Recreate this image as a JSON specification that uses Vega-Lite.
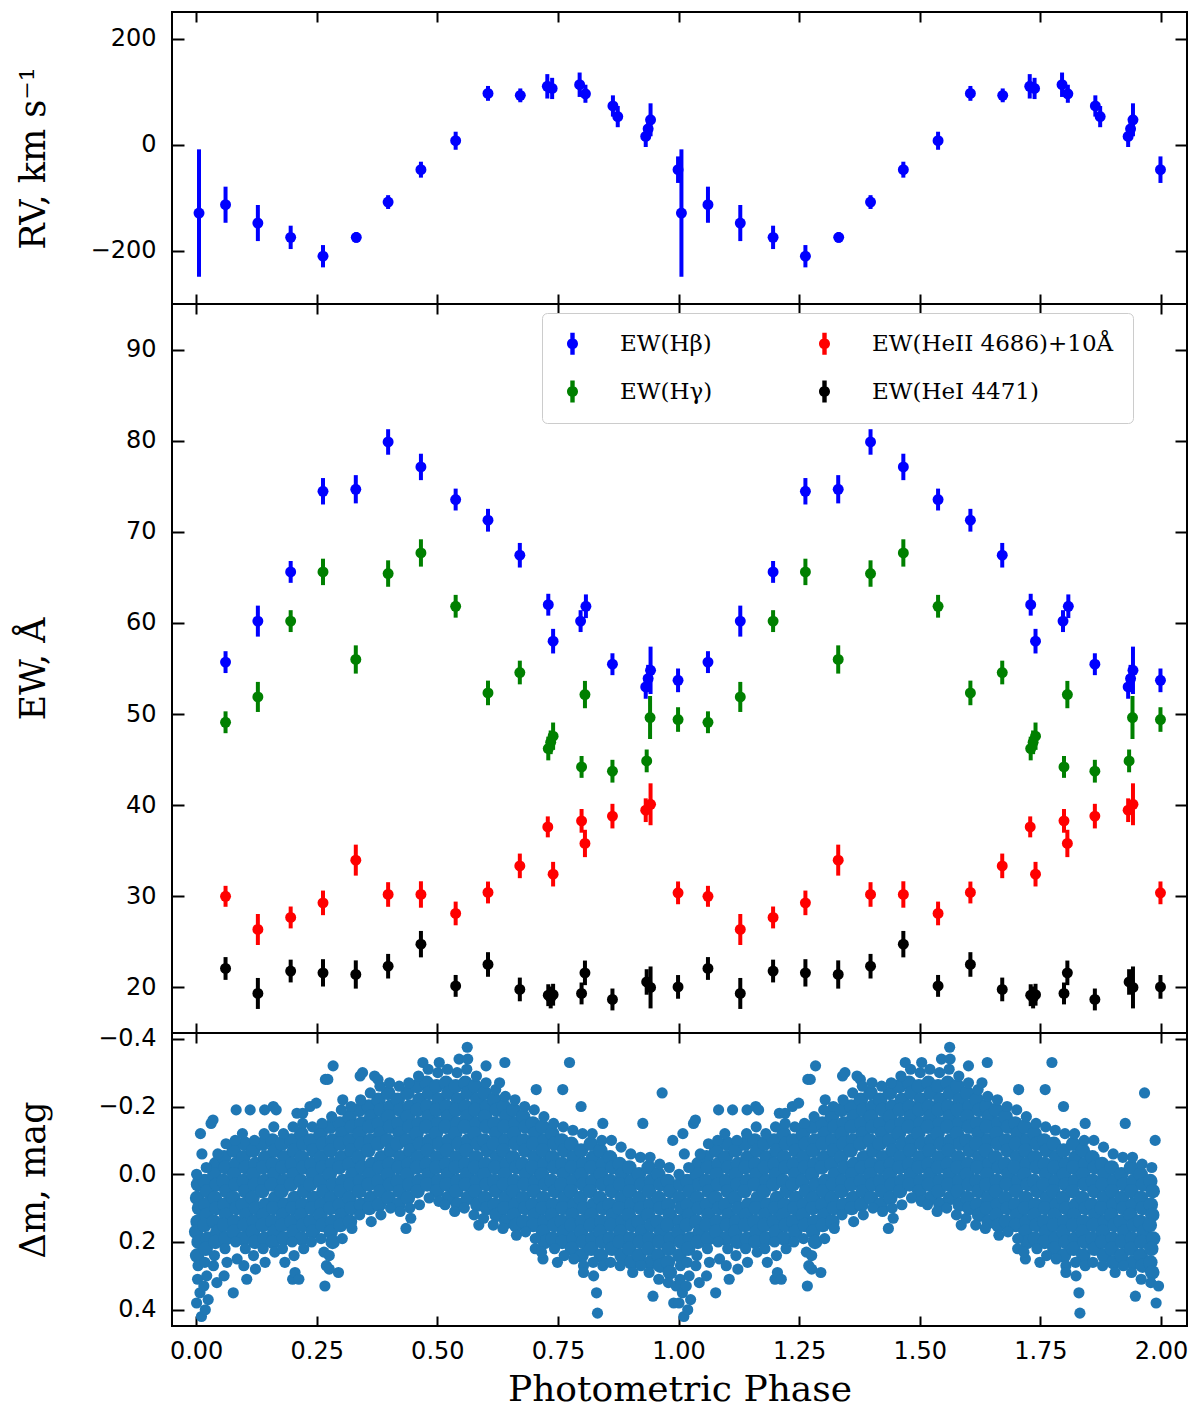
{
  "$schema": "https://vega.github.io/schema/vega-lite/v6.json",
  "background": "white",
  "padding": {"left": 15, "top": 10, "right": 5, "bottom": 5},
  "spacing": 0,
  "bounds": "flush",
  "datasets": {
    "rv": [
      {"p":0.006,"v":-128.7,"e":120},{"p":0.061,"v":-113,"e":34},{"p":0.128,"v":-147.5,"e":34},{"p":0.196,"v":-174.5,"e":22},
      {"p":0.263,"v":-210,"e":21},{"p":0.332,"v":-174.5,"e":10},{"p":0.398,"v":-108,"e":13},{"p":0.466,"v":-47,"e":15},
      {"p":0.538,"v":7.5,"e":17},{"p":0.605,"v":96.7,"e":14},{"p":0.672,"v":93,"e":13},{"p":0.728,"v":110,"e":23},
      {"p":0.738,"v":106,"e":20},{"p":0.795,"v":113,"e":23},{"p":0.807,"v":96,"e":17},{"p":0.864,"v":73,"e":20},
      {"p":0.874,"v":53,"e":20},{"p":0.932,"v":15.7,"e":20},{"p":0.937,"v":30,"e":16},{"p":0.942,"v":47,"e":31},
      {"p":0.999,"v":-47,"e":25}
    ],
    "ew": [
      {"p":0.061,"v":55.7,"e":1.2,"s":"EW(Hβ)"},{"p":0.128,"v":60.2,"e":1.7,"s":"EW(Hβ)"},{"p":0.196,"v":65.6,"e":1.2,"s":"EW(Hβ)"},
      {"p":0.263,"v":74.45,"e":1.45,"s":"EW(Hβ)"},{"p":0.331,"v":74.67,"e":1.55,"s":"EW(Hβ)"},{"p":0.398,"v":79.86,"e":1.4,"s":"EW(Hβ)"},
      {"p":0.466,"v":77.12,"e":1.45,"s":"EW(Hβ)"},{"p":0.538,"v":73.54,"e":1.2,"s":"EW(Hβ)"},{"p":0.605,"v":71.27,"e":1.25,"s":"EW(Hβ)"},
      {"p":0.671,"v":67.43,"e":1.35,"s":"EW(Hβ)"},{"p":0.730,"v":62.0,"e":1.2,"s":"EW(Hβ)"},{"p":0.740,"v":58.0,"e":1.35,"s":"EW(Hβ)"},
      {"p":0.797,"v":60.2,"e":1.2,"s":"EW(Hβ)"},{"p":0.808,"v":61.83,"e":1.3,"s":"EW(Hβ)"},{"p":0.863,"v":55.47,"e":1.2,"s":"EW(Hβ)"},
      {"p":0.932,"v":52.98,"e":1.3,"s":"EW(Hβ)"},{"p":0.937,"v":53.9,"e":1.5,"s":"EW(Hβ)"},{"p":0.942,"v":54.8,"e":2.6,"s":"EW(Hβ)"},
      {"p":0.999,"v":53.7,"e":1.3,"s":"EW(Hβ)"},
      {"p":0.061,"v":49.1,"e":1.2,"s":"EW(Hγ)"},{"p":0.128,"v":51.88,"e":1.65,"s":"EW(Hγ)"},{"p":0.196,"v":60.2,"e":1.2,"s":"EW(Hγ)"},
      {"p":0.263,"v":65.6,"e":1.45,"s":"EW(Hγ)"},{"p":0.331,"v":55.99,"e":1.55,"s":"EW(Hγ)"},{"p":0.398,"v":65.42,"e":1.45,"s":"EW(Hγ)"},
      {"p":0.466,"v":67.68,"e":1.5,"s":"EW(Hγ)"},{"p":0.538,"v":61.83,"e":1.25,"s":"EW(Hγ)"},{"p":0.605,"v":52.32,"e":1.35,"s":"EW(Hγ)"},
      {"p":0.671,"v":54.56,"e":1.3,"s":"EW(Hγ)"},{"p":0.730,"v":46.22,"e":1.3,"s":"EW(Hγ)"},{"p":0.735,"v":46.9,"e":1.3,"s":"EW(Hγ)"},
      {"p":0.740,"v":47.57,"e":1.5,"s":"EW(Hγ)"},{"p":0.799,"v":44.2,"e":1.2,"s":"EW(Hγ)"},{"p":0.806,"v":52.14,"e":1.5,"s":"EW(Hγ)"},
      {"p":0.863,"v":43.73,"e":1.25,"s":"EW(Hγ)"},{"p":0.934,"v":44.86,"e":1.25,"s":"EW(Hγ)"},{"p":0.941,"v":49.62,"e":2.36,"s":"EW(Hγ)"},
      {"p":0.999,"v":49.4,"e":1.35,"s":"EW(Hγ)"},
      {"p":0.061,"v":30.0,"e":1.15,"s":"EW(HeII 4686)+10Å"},{"p":0.128,"v":26.36,"e":1.7,"s":"EW(HeII 4686)+10Å"},{"p":0.196,"v":27.68,"e":1.2,"s":"EW(HeII 4686)+10Å"},
      {"p":0.263,"v":29.28,"e":1.35,"s":"EW(HeII 4686)+10Å"},{"p":0.331,"v":33.97,"e":1.7,"s":"EW(HeII 4686)+10Å"},{"p":0.398,"v":30.2,"e":1.35,"s":"EW(HeII 4686)+10Å"},
      {"p":0.466,"v":30.2,"e":1.45,"s":"EW(HeII 4686)+10Å"},{"p":0.538,"v":28.12,"e":1.3,"s":"EW(HeII 4686)+10Å"},{"p":0.605,"v":30.42,"e":1.2,"s":"EW(HeII 4686)+10Å"},
      {"p":0.671,"v":33.34,"e":1.35,"s":"EW(HeII 4686)+10Å"},{"p":0.729,"v":37.62,"e":1.15,"s":"EW(HeII 4686)+10Å"},{"p":0.740,"v":32.43,"e":1.35,"s":"EW(HeII 4686)+10Å"},
      {"p":0.799,"v":38.28,"e":1.3,"s":"EW(HeII 4686)+10Å"},{"p":0.806,"v":35.8,"e":1.5,"s":"EW(HeII 4686)+10Å"},{"p":0.863,"v":38.8,"e":1.35,"s":"EW(HeII 4686)+10Å"},
      {"p":0.932,"v":39.45,"e":1.3,"s":"EW(HeII 4686)+10Å"},{"p":0.942,"v":40.1,"e":2.3,"s":"EW(HeII 4686)+10Å"},{"p":0.999,"v":30.38,"e":1.25,"s":"EW(HeII 4686)+10Å"},
      {"p":0.061,"v":22.08,"e":1.25,"s":"EW(HeI 4471)"},{"p":0.128,"v":19.34,"e":1.7,"s":"EW(HeI 4471)"},{"p":0.196,"v":21.8,"e":1.25,"s":"EW(HeI 4471)"},
      {"p":0.263,"v":21.6,"e":1.5,"s":"EW(HeI 4471)"},{"p":0.331,"v":21.42,"e":1.55,"s":"EW(HeI 4471)"},{"p":0.398,"v":22.33,"e":1.35,"s":"EW(HeI 4471)"},
      {"p":0.466,"v":24.75,"e":1.45,"s":"EW(HeI 4471)"},{"p":0.538,"v":20.17,"e":1.2,"s":"EW(HeI 4471)"},{"p":0.605,"v":22.52,"e":1.35,"s":"EW(HeI 4471)"},
      {"p":0.671,"v":19.78,"e":1.3,"s":"EW(HeI 4471)"},{"p":0.730,"v":19.15,"e":1.2,"s":"EW(HeI 4471)"},{"p":0.735,"v":18.9,"e":1.2,"s":"EW(HeI 4471)"},
      {"p":0.740,"v":19.2,"e":1.2,"s":"EW(HeI 4471)"},{"p":0.799,"v":19.34,"e":1.2,"s":"EW(HeI 4471)"},{"p":0.806,"v":21.6,"e":1.35,"s":"EW(HeI 4471)"},
      {"p":0.863,"v":18.68,"e":1.2,"s":"EW(HeI 4471)"},{"p":0.934,"v":20.6,"e":1.4,"s":"EW(HeI 4471)"},{"p":0.942,"v":20.0,"e":2.3,"s":"EW(HeI 4471)"},
      {"p":0.999,"v":20.06,"e":1.3,"s":"EW(HeI 4471)"}
    ],
    "photCore": [
      {"p":0.004,"m":0.03},{"p":0.002,"m":0.07},{"p":0.006,"m":0.10},{"p":0.003,"m":0.14},{"p":0.000,"m":0.17},{"p":0.005,"m":0.20},{"p":0.002,"m":0.24},
      {"p":0.018,"m":0.02},{"p":0.023,"m":0.05},{"p":0.019,"m":0.09},{"p":0.022,"m":0.12},{"p":0.017,"m":0.15},{"p":0.024,"m":0.19},{"p":0.020,"m":0.22},
      {"p":0.041,"m":-0.03},{"p":0.038,"m":0.00},{"p":0.043,"m":0.03},{"p":0.039,"m":0.07},{"p":0.042,"m":0.10},{"p":0.037,"m":0.14},{"p":0.044,"m":0.17},{"p":0.040,"m":0.20},
      {"p":0.058,"m":-0.05},{"p":0.061,"m":-0.02},{"p":0.057,"m":0.02},{"p":0.063,"m":0.05},{"p":0.059,"m":0.09},{"p":0.062,"m":0.12},{"p":0.058,"m":0.15},{"p":0.061,"m":0.19},
      {"p":0.078,"m":-0.07},{"p":0.083,"m":-0.03},{"p":0.079,"m":0.00},{"p":0.082,"m":0.03},{"p":0.077,"m":0.07},{"p":0.084,"m":0.10},{"p":0.080,"m":0.14},{"p":0.078,"m":0.17},
      {"p":0.101,"m":-0.09},{"p":0.098,"m":-0.05},{"p":0.103,"m":-0.02},{"p":0.099,"m":0.02},{"p":0.102,"m":0.05},{"p":0.097,"m":0.09},{"p":0.104,"m":0.12},{"p":0.100,"m":0.15},{"p":0.098,"m":0.19},
      {"p":0.118,"m":-0.07},{"p":0.123,"m":-0.03},{"p":0.119,"m":0.00},{"p":0.122,"m":0.03},{"p":0.117,"m":0.07},{"p":0.124,"m":0.10},{"p":0.120,"m":0.14},{"p":0.118,"m":0.17},{"p":0.122,"m":0.20},
      {"p":0.138,"m":-0.09},{"p":0.143,"m":-0.05},{"p":0.139,"m":-0.02},{"p":0.142,"m":0.02},{"p":0.137,"m":0.05},{"p":0.144,"m":0.09},{"p":0.140,"m":0.12},{"p":0.138,"m":0.15},{"p":0.142,"m":0.19},
      {"p":0.158,"m":-0.10},{"p":0.163,"m":-0.07},{"p":0.159,"m":-0.03},{"p":0.162,"m":0.00},{"p":0.157,"m":0.03},{"p":0.164,"m":0.07},{"p":0.160,"m":0.10},{"p":0.158,"m":0.14},{"p":0.162,"m":0.17},{"p":0.159,"m":0.20},
      {"p":0.178,"m":-0.09},{"p":0.183,"m":-0.05},{"p":0.179,"m":-0.02},{"p":0.182,"m":0.02},{"p":0.177,"m":0.05},{"p":0.184,"m":0.09},{"p":0.180,"m":0.12},{"p":0.178,"m":0.15},{"p":0.182,"m":0.19},
      {"p":0.198,"m":-0.10},{"p":0.203,"m":-0.07},{"p":0.199,"m":-0.03},{"p":0.202,"m":0.00},{"p":0.197,"m":0.03},{"p":0.204,"m":0.07},{"p":0.200,"m":0.10},{"p":0.198,"m":0.14},{"p":0.202,"m":0.17},
      {"p":0.218,"m":-0.12},{"p":0.223,"m":-0.09},{"p":0.219,"m":-0.05},{"p":0.222,"m":-0.02},{"p":0.217,"m":0.02},{"p":0.224,"m":0.05},{"p":0.220,"m":0.09},{"p":0.218,"m":0.12},{"p":0.222,"m":0.15},{"p":0.219,"m":0.19},
      {"p":0.238,"m":-0.10},{"p":0.243,"m":-0.07},{"p":0.239,"m":-0.03},{"p":0.242,"m":0.00},{"p":0.237,"m":0.03},{"p":0.244,"m":0.07},{"p":0.240,"m":0.10},{"p":0.238,"m":0.14},{"p":0.242,"m":0.17},
      {"p":0.258,"m":-0.12},{"p":0.263,"m":-0.09},{"p":0.259,"m":-0.05},{"p":0.262,"m":-0.02},{"p":0.257,"m":0.02},{"p":0.264,"m":0.05},{"p":0.260,"m":0.09},{"p":0.258,"m":0.12},{"p":0.262,"m":0.15},
      {"p":0.278,"m":-0.14},{"p":0.283,"m":-0.10},{"p":0.279,"m":-0.07},{"p":0.282,"m":-0.03},{"p":0.277,"m":0.00},{"p":0.284,"m":0.03},{"p":0.280,"m":0.07},{"p":0.278,"m":0.10},{"p":0.282,"m":0.14},{"p":0.279,"m":0.17},{"p":0.283,"m":0.20},
      {"p":0.298,"m":-0.15},{"p":0.303,"m":-0.12},{"p":0.299,"m":-0.09},{"p":0.302,"m":-0.05},{"p":0.297,"m":-0.02},{"p":0.304,"m":0.02},{"p":0.300,"m":0.05},{"p":0.298,"m":0.09},{"p":0.302,"m":0.12},{"p":0.299,"m":0.15},
      {"p":0.318,"m":-0.17},{"p":0.323,"m":-0.14},{"p":0.319,"m":-0.10},{"p":0.322,"m":-0.07},{"p":0.317,"m":-0.03},{"p":0.324,"m":0.00},{"p":0.320,"m":0.03},{"p":0.318,"m":0.07},{"p":0.322,"m":0.10},{"p":0.319,"m":0.14},
      {"p":0.338,"m":-0.19},{"p":0.343,"m":-0.15},{"p":0.339,"m":-0.12},{"p":0.342,"m":-0.09},{"p":0.337,"m":-0.05},{"p":0.344,"m":-0.02},{"p":0.340,"m":0.02},{"p":0.338,"m":0.05},{"p":0.342,"m":0.09},
      {"p":0.358,"m":-0.20},{"p":0.363,"m":-0.17},{"p":0.359,"m":-0.14},{"p":0.362,"m":-0.10},{"p":0.357,"m":-0.07},{"p":0.364,"m":-0.03},{"p":0.360,"m":0.00},{"p":0.358,"m":0.03},{"p":0.362,"m":0.07},{"p":0.359,"m":0.10},
      {"p":0.378,"m":-0.22},{"p":0.383,"m":-0.19},{"p":0.379,"m":-0.15},{"p":0.382,"m":-0.12},{"p":0.377,"m":-0.09},{"p":0.384,"m":-0.05},{"p":0.380,"m":-0.02},{"p":0.378,"m":0.02},{"p":0.382,"m":0.05},{"p":0.379,"m":0.09},
      {"p":0.398,"m":-0.24},{"p":0.403,"m":-0.20},{"p":0.399,"m":-0.17},{"p":0.402,"m":-0.14},{"p":0.397,"m":-0.10},{"p":0.404,"m":-0.07},{"p":0.400,"m":-0.03},{"p":0.398,"m":0.00},{"p":0.402,"m":0.03},{"p":0.399,"m":0.07},
      {"p":0.418,"m":-0.22},{"p":0.423,"m":-0.19},{"p":0.419,"m":-0.15},{"p":0.422,"m":-0.12},{"p":0.417,"m":-0.09},{"p":0.424,"m":-0.05},{"p":0.420,"m":-0.02},{"p":0.418,"m":0.02},{"p":0.422,"m":0.05},{"p":0.419,"m":0.09},
      {"p":0.438,"m":-0.24},{"p":0.443,"m":-0.20},{"p":0.439,"m":-0.17},{"p":0.442,"m":-0.14},{"p":0.437,"m":-0.10},{"p":0.444,"m":-0.07},{"p":0.440,"m":-0.03},{"p":0.438,"m":0.00},{"p":0.442,"m":0.03},{"p":0.439,"m":0.07},
      {"p":0.458,"m":-0.26},{"p":0.463,"m":-0.22},{"p":0.459,"m":-0.19},{"p":0.462,"m":-0.15},{"p":0.457,"m":-0.12},{"p":0.464,"m":-0.09},{"p":0.460,"m":-0.05},{"p":0.458,"m":-0.02},{"p":0.462,"m":0.02},{"p":0.459,"m":0.05},
      {"p":0.478,"m":-0.27},{"p":0.483,"m":-0.24},{"p":0.479,"m":-0.20},{"p":0.482,"m":-0.17},{"p":0.477,"m":-0.14},{"p":0.484,"m":-0.10},{"p":0.480,"m":-0.07},{"p":0.478,"m":-0.03},{"p":0.482,"m":0.00},{"p":0.479,"m":0.03},
      {"p":0.498,"m":-0.26},{"p":0.503,"m":-0.22},{"p":0.499,"m":-0.19},{"p":0.502,"m":-0.15},{"p":0.497,"m":-0.12},{"p":0.504,"m":-0.09},{"p":0.500,"m":-0.05},{"p":0.498,"m":-0.02},{"p":0.502,"m":0.02},{"p":0.499,"m":0.05},
      {"p":0.518,"m":-0.27},{"p":0.523,"m":-0.24},{"p":0.519,"m":-0.20},{"p":0.522,"m":-0.17},{"p":0.517,"m":-0.14},{"p":0.524,"m":-0.10},{"p":0.520,"m":-0.07},{"p":0.518,"m":-0.03},{"p":0.522,"m":0.00},{"p":0.519,"m":0.03},{"p":0.523,"m":0.07},
      {"p":0.538,"m":-0.26},{"p":0.543,"m":-0.22},{"p":0.539,"m":-0.19},{"p":0.542,"m":-0.15},{"p":0.537,"m":-0.12},{"p":0.544,"m":-0.09},{"p":0.540,"m":-0.05},{"p":0.538,"m":-0.02},{"p":0.542,"m":0.02},{"p":0.539,"m":0.05},{"p":0.543,"m":0.09},
      {"p":0.558,"m":-0.27},{"p":0.563,"m":-0.24},{"p":0.559,"m":-0.20},{"p":0.562,"m":-0.17},{"p":0.557,"m":-0.14},{"p":0.564,"m":-0.10},{"p":0.560,"m":-0.07},{"p":0.558,"m":-0.03},{"p":0.562,"m":0.00},{"p":0.559,"m":0.03},{"p":0.563,"m":0.07},
      {"p":0.578,"m":-0.26},{"p":0.583,"m":-0.22},{"p":0.579,"m":-0.19},{"p":0.582,"m":-0.15},{"p":0.577,"m":-0.12},{"p":0.584,"m":-0.09},{"p":0.580,"m":-0.05},{"p":0.578,"m":-0.02},{"p":0.582,"m":0.02},{"p":0.579,"m":0.05},{"p":0.583,"m":0.09},
      {"p":0.598,"m":-0.24},{"p":0.603,"m":-0.20},{"p":0.599,"m":-0.17},{"p":0.602,"m":-0.14},{"p":0.597,"m":-0.10},{"p":0.604,"m":-0.07},{"p":0.600,"m":-0.03},{"p":0.598,"m":0.00},{"p":0.602,"m":0.03},{"p":0.599,"m":0.07},{"p":0.603,"m":0.10},
      {"p":0.618,"m":-0.22},{"p":0.623,"m":-0.19},{"p":0.619,"m":-0.15},{"p":0.622,"m":-0.12},{"p":0.617,"m":-0.09},{"p":0.624,"m":-0.05},{"p":0.620,"m":-0.02},{"p":0.618,"m":0.02},{"p":0.622,"m":0.05},{"p":0.619,"m":0.09},{"p":0.623,"m":0.12},
      {"p":0.638,"m":-0.20},{"p":0.643,"m":-0.17},{"p":0.639,"m":-0.14},{"p":0.642,"m":-0.10},{"p":0.637,"m":-0.07},{"p":0.644,"m":-0.03},{"p":0.640,"m":0.00},{"p":0.638,"m":0.03},{"p":0.642,"m":0.07},{"p":0.639,"m":0.10},{"p":0.643,"m":0.14},
      {"p":0.658,"m":-0.19},{"p":0.663,"m":-0.15},{"p":0.659,"m":-0.12},{"p":0.662,"m":-0.09},{"p":0.657,"m":-0.05},{"p":0.664,"m":-0.02},{"p":0.660,"m":0.02},{"p":0.658,"m":0.05},{"p":0.662,"m":0.09},{"p":0.659,"m":0.12},{"p":0.663,"m":0.15},
      {"p":0.678,"m":-0.17},{"p":0.683,"m":-0.14},{"p":0.679,"m":-0.10},{"p":0.682,"m":-0.07},{"p":0.677,"m":-0.03},{"p":0.684,"m":0.00},{"p":0.680,"m":0.03},{"p":0.678,"m":0.07},{"p":0.682,"m":0.10},{"p":0.679,"m":0.14},
      {"p":0.698,"m":-0.15},{"p":0.703,"m":-0.12},{"p":0.699,"m":-0.09},{"p":0.702,"m":-0.05},{"p":0.697,"m":-0.02},{"p":0.704,"m":0.02},{"p":0.700,"m":0.05},{"p":0.698,"m":0.09},{"p":0.702,"m":0.12},{"p":0.699,"m":0.15},
      {"p":0.718,"m":-0.14},{"p":0.723,"m":-0.10},{"p":0.719,"m":-0.07},{"p":0.722,"m":-0.03},{"p":0.717,"m":0.00},{"p":0.724,"m":0.03},{"p":0.720,"m":0.07},{"p":0.718,"m":0.10},{"p":0.722,"m":0.14},{"p":0.719,"m":0.17},{"p":0.723,"m":0.20},
      {"p":0.738,"m":-0.12},{"p":0.743,"m":-0.09},{"p":0.739,"m":-0.05},{"p":0.742,"m":-0.02},{"p":0.737,"m":0.02},{"p":0.744,"m":0.05},{"p":0.740,"m":0.09},{"p":0.738,"m":0.12},{"p":0.742,"m":0.15},{"p":0.739,"m":0.19},
      {"p":0.758,"m":-0.10},{"p":0.763,"m":-0.07},{"p":0.759,"m":-0.03},{"p":0.762,"m":0.00},{"p":0.757,"m":0.03},{"p":0.764,"m":0.07},{"p":0.760,"m":0.10},{"p":0.758,"m":0.14},{"p":0.762,"m":0.17},{"p":0.759,"m":0.20},
      {"p":0.778,"m":-0.09},{"p":0.783,"m":-0.05},{"p":0.779,"m":-0.02},{"p":0.782,"m":0.02},{"p":0.777,"m":0.05},{"p":0.784,"m":0.09},{"p":0.780,"m":0.12},{"p":0.778,"m":0.15},{"p":0.782,"m":0.19},{"p":0.779,"m":0.22},
      {"p":0.798,"m":-0.07},{"p":0.803,"m":-0.03},{"p":0.799,"m":0.00},{"p":0.802,"m":0.03},{"p":0.797,"m":0.07},{"p":0.804,"m":0.10},{"p":0.800,"m":0.14},{"p":0.798,"m":0.17},{"p":0.802,"m":0.20},{"p":0.799,"m":0.24},
      {"p":0.818,"m":-0.09},{"p":0.823,"m":-0.05},{"p":0.819,"m":-0.02},{"p":0.822,"m":0.02},{"p":0.817,"m":0.05},{"p":0.824,"m":0.09},{"p":0.820,"m":0.12},{"p":0.818,"m":0.15},{"p":0.822,"m":0.19},{"p":0.819,"m":0.22},
      {"p":0.838,"m":-0.07},{"p":0.843,"m":-0.03},{"p":0.839,"m":0.00},{"p":0.842,"m":0.03},{"p":0.837,"m":0.07},{"p":0.844,"m":0.10},{"p":0.840,"m":0.14},{"p":0.838,"m":0.17},{"p":0.842,"m":0.20},{"p":0.839,"m":0.24},
      {"p":0.858,"m":-0.05},{"p":0.863,"m":-0.02},{"p":0.859,"m":0.02},{"p":0.862,"m":0.05},{"p":0.857,"m":0.09},{"p":0.864,"m":0.12},{"p":0.860,"m":0.15},{"p":0.858,"m":0.19},{"p":0.862,"m":0.22},
      {"p":0.878,"m":-0.03},{"p":0.883,"m":0.00},{"p":0.879,"m":0.03},{"p":0.882,"m":0.07},{"p":0.877,"m":0.10},{"p":0.884,"m":0.14},{"p":0.880,"m":0.17},{"p":0.878,"m":0.20},{"p":0.882,"m":0.24},
      {"p":0.898,"m":-0.02},{"p":0.903,"m":0.02},{"p":0.899,"m":0.05},{"p":0.902,"m":0.09},{"p":0.897,"m":0.12},{"p":0.904,"m":0.15},{"p":0.900,"m":0.19},{"p":0.898,"m":0.22},{"p":0.902,"m":0.26},
      {"p":0.918,"m":0.00},{"p":0.923,"m":0.03},{"p":0.919,"m":0.07},{"p":0.922,"m":0.10},{"p":0.917,"m":0.14},{"p":0.924,"m":0.17},{"p":0.920,"m":0.20},{"p":0.918,"m":0.24},
      {"p":0.938,"m":-0.02},{"p":0.943,"m":0.02},{"p":0.939,"m":0.05},{"p":0.942,"m":0.09},{"p":0.937,"m":0.12},{"p":0.944,"m":0.15},{"p":0.940,"m":0.19},{"p":0.938,"m":0.22},{"p":0.942,"m":0.26},
      {"p":0.958,"m":0.00},{"p":0.963,"m":0.03},{"p":0.959,"m":0.07},{"p":0.962,"m":0.10},{"p":0.957,"m":0.14},{"p":0.964,"m":0.17},{"p":0.960,"m":0.20},{"p":0.958,"m":0.24},{"p":0.962,"m":0.27},
      {"p":0.978,"m":0.02},{"p":0.983,"m":0.05},{"p":0.979,"m":0.09},{"p":0.982,"m":0.12},{"p":0.977,"m":0.15},{"p":0.984,"m":0.19},{"p":0.980,"m":0.22},{"p":0.978,"m":0.26},{"p":0.982,"m":0.29}
    ],
    "photEdge": [
      {"p":0.001,"m":0.00},{"p":0.004,"m":0.27},{"p":0.003,"m":0.31},{"p":0.008,"m":0.35},{"p":0.001,"m":0.38},{"p":0.011,"m":0.42},{"p":0.012,"m":-0.06},{"p":0.009,"m":-0.12},
      {"p":0.021,"m":-0.02},{"p":0.018,"m":0.26},{"p":0.022,"m":0.30},{"p":0.016,"m":0.33},{"p":0.025,"m":0.37},{"p":0.019,"m":0.40},{"p":0.031,"m":-0.15},
      {"p":0.045,"m":-0.06},{"p":0.038,"m":0.24},{"p":0.036,"m":0.27},{"p":0.043,"m":0.32},{"p":0.035,"m":-0.16},
      {"p":0.062,"m":-0.09},{"p":0.060,"m":0.22},{"p":0.064,"m":0.26},{"p":0.058,"m":0.30},
      {"p":0.081,"m":-0.10},{"p":0.082,"m":0.20},{"p":0.085,"m":0.25},{"p":0.077,"m":0.35},{"p":0.083,"m":-0.19},
      {"p":0.096,"m":-0.12},{"p":0.102,"m":0.22},{"p":0.099,"m":0.27},{"p":0.105,"m":0.31},
      {"p":0.121,"m":-0.10},{"p":0.119,"m":0.24},{"p":0.112,"m":-0.19},{"p":0.123,"m":0.28},
      {"p":0.141,"m":-0.12},{"p":0.139,"m":0.22},{"p":0.143,"m":0.26},{"p":0.142,"m":-0.19},
      {"p":0.161,"m":-0.14},{"p":0.163,"m":0.23},{"p":0.160,"m":-0.20},{"p":0.166,"m":-0.19},
      {"p":0.181,"m":-0.12},{"p":0.179,"m":0.22},{"p":0.184,"m":0.26},
      {"p":0.201,"m":-0.14},{"p":0.199,"m":0.20},{"p":0.203,"m":0.24},{"p":0.200,"m":0.31},{"p":0.209,"m":-0.18},
      {"p":0.221,"m":-0.15},{"p":0.223,"m":0.22},{"p":0.221,"m":-0.18},{"p":0.205,"m":0.29},{"p":0.213,"m":0.31},
      {"p":0.241,"m":-0.14},{"p":0.239,"m":0.20},{"p":0.236,"m":-0.20},{"p":0.249,"m":-0.21},
      {"p":0.261,"m":-0.15},{"p":0.259,"m":0.19},{"p":0.265,"m":0.23},{"p":0.270,"m":0.27},{"p":0.267,"m":0.33},{"p":0.268,"m":-0.28},
      {"p":0.281,"m":-0.17},{"p":0.276,"m":0.24},{"p":0.276,"m":0.28},{"p":0.295,"m":0.29},{"p":0.284,"m":-0.32},{"p":0.273,"m":-0.28},
      {"p":0.301,"m":-0.19},{"p":0.303,"m":0.19},{"p":0.304,"m":-0.22},
      {"p":0.321,"m":-0.20},{"p":0.323,"m":0.16},
      {"p":0.341,"m":-0.22},{"p":0.339,"m":0.12},{"p":0.340,"m":-0.29},{"p":0.345,"m":-0.30},
      {"p":0.361,"m":-0.24},{"p":0.363,"m":0.14},{"p":0.370,"m":-0.29},{"p":0.377,"m":-0.28},
      {"p":0.381,"m":-0.26},{"p":0.383,"m":0.12},
      {"p":0.401,"m":-0.27},{"p":0.403,"m":0.10},
      {"p":0.421,"m":-0.26},{"p":0.423,"m":0.11},
      {"p":0.441,"m":-0.27},{"p":0.443,"m":0.10},{"p":0.435,"m":0.16},{"p":0.445,"m":0.13},
      {"p":0.461,"m":-0.29},{"p":0.463,"m":0.09},{"p":0.470,"m":-0.33},
      {"p":0.481,"m":-0.31},{"p":0.483,"m":0.07},
      {"p":0.501,"m":-0.30},{"p":0.503,"m":0.08},{"p":0.504,"m":-0.33},
      {"p":0.521,"m":-0.31},{"p":0.516,"m":0.09},
      {"p":0.541,"m":-0.30},{"p":0.536,"m":0.11},{"p":0.545,"m":-0.34},
      {"p":0.561,"m":-0.31},{"p":0.556,"m":0.10},{"p":0.562,"m":-0.375},{"p":0.563,"m":-0.34},
      {"p":0.581,"m":-0.29},{"p":0.576,"m":0.12},{"p":0.586,"m":0.15},
      {"p":0.601,"m":-0.27},{"p":0.596,"m":0.13},{"p":0.601,"m":-0.32},
      {"p":0.621,"m":-0.25},{"p":0.616,"m":0.15},
      {"p":0.641,"m":-0.23},{"p":0.636,"m":0.16},{"p":0.640,"m":-0.33},{"p":0.629,"m":-0.27},
      {"p":0.661,"m":-0.22},{"p":0.664,"m":0.18},
      {"p":0.681,"m":-0.20},{"p":0.683,"m":0.17},
      {"p":0.701,"m":-0.19},{"p":0.703,"m":0.19},{"p":0.705,"m":-0.25},{"p":0.703,"m":0.22},{"p":0.719,"m":0.25},
      {"p":0.721,"m":-0.17},{"p":0.716,"m":0.23},
      {"p":0.741,"m":-0.15},{"p":0.743,"m":0.22},{"p":0.749,"m":0.26},
      {"p":0.761,"m":-0.14},{"p":0.763,"m":0.24},{"p":0.760,"m":-0.25},
      {"p":0.781,"m":-0.13},{"p":0.783,"m":0.25},{"p":0.774,"m":-0.33},
      {"p":0.801,"m":-0.12},{"p":0.803,"m":0.27},{"p":0.798,"m":-0.20},{"p":0.803,"m":0.29},
      {"p":0.821,"m":-0.12},{"p":0.823,"m":0.26},{"p":0.824,"m":0.30},{"p":0.830,"m":0.35},{"p":0.832,"m":0.41},
      {"p":0.841,"m":-0.10},{"p":0.843,"m":0.27},{"p":0.843,"m":-0.15},
      {"p":0.861,"m":-0.10},{"p":0.859,"m":0.26},
      {"p":0.881,"m":-0.08},{"p":0.879,"m":0.27},
      {"p":0.901,"m":-0.06},{"p":0.905,"m":0.29},
      {"p":0.921,"m":-0.05},{"p":0.922,"m":0.27},{"p":0.926,"m":-0.15},
      {"p":0.941,"m":-0.05},{"p":0.939,"m":0.29},{"p":0.947,"m":0.36},
      {"p":0.961,"m":-0.03},{"p":0.959,"m":0.31},{"p":0.966,"m":-0.24},
      {"p":0.981,"m":-0.02},{"p":0.979,"m":0.32},{"p":0.995,"m":0.33},{"p":0.990,"m":0.38},{"p":0.988,"m":-0.10}
    ]
  },
  "vconcat": [
    {
      "width": 1015,
      "height": 292,
      "layer": [
        {
          "data": {"name": "rv"},
          "encoding": {
            "x": {"field": "p", "type": "quantitative", "scale": {"domain": [-0.05, 2.054], "nice": false, "zero": false},
                  "axis": {"orient": "bottom", "values": [0, 0.25, 0.5, 0.75, 1, 1.25, 1.5, 1.75, 2], "labels": false, "title": null}},
            "y": {"field": "v", "type": "quantitative", "scale": {"domain": [-300, 250], "nice": false, "zero": false},
                  "axis": {"values": [-200, 0, 200], "title": "RV, km s⁻¹"}}
          },
          "layer": [
            {"mark": {"type": "errorbar", "thickness": 4, "color": "#0000ff"}, "encoding": {"yError": {"field": "e"}}},
            {"mark": {"type": "circle", "size": 120, "color": "#0000ff", "opacity": 1}}
          ]
        },
        {
          "data": {"name": "rv"},
          "encoding": {
            "x": {"field": "p", "type": "quantitative", "scale": {"domain": [-1.05, 1.054], "nice": false, "zero": false}, "axis": null},
            "y": {"field": "v", "type": "quantitative", "axis": null}
          },
          "layer": [
            {"mark": {"type": "errorbar", "thickness": 4, "color": "#0000ff"}, "encoding": {"yError": {"field": "e"}}},
            {"mark": {"type": "circle", "size": 120, "color": "#0000ff", "opacity": 1}}
          ]
        },
        {
          "data": {"name": "rv"},
          "mark": {"type": "circle", "opacity": 0},
          "encoding": {
            "x": {"field": "p", "type": "quantitative", "scale": {"domain": [-0.05, 2.054], "nice": false, "zero": false},
                  "axis": {"orient": "top", "values": [0, 0.25, 0.5, 0.75, 1, 1.25, 1.5, 1.75, 2], "labels": false, "title": null}},
            "y": {"field": "v", "type": "quantitative", "axis": {"orient": "right", "values": [-200, 0, 200], "labels": false, "title": null}}
          }
        }
      ],
      "resolve": {"scale": {"x": "independent"}, "axis": {"y": "independent"}}
    },
    {
      "width": 1015,
      "height": 729,
      "layer": [
        {
          "data": {"name": "ew"},
          "encoding": {
            "x": {"field": "p", "type": "quantitative", "scale": {"domain": [-0.05, 2.054], "nice": false, "zero": false},
                  "axis": {"orient": "bottom", "values": [0, 0.25, 0.5, 0.75, 1, 1.25, 1.5, 1.75, 2], "labels": false, "title": null}},
            "y": {"field": "v", "type": "quantitative", "scale": {"domain": [15, 95], "nice": false, "zero": false},
                  "axis": {"values": [20, 30, 40, 50, 60, 70, 80, 90], "title": "EW, Å"}},
            "color": {"field": "s", "type": "nominal",
                      "scale": {"domain": ["EW(Hβ)", "EW(Hγ)", "EW(HeII 4686)+10Å", "EW(HeI 4471)"], "range": ["#0000ff", "#008000", "#ff0000", "#000000"]},
                      "legend": {"orient": "none", "legendX": 370, "legendY": 301, "columns": 2, "title": null}}
          },
          "layer": [
            {"mark": {"type": "errorbar", "thickness": 4}, "encoding": {"yError": {"field": "e"}}},
            {"mark": {"type": "circle", "size": 120, "opacity": 1}}
          ]
        },
        {
          "data": {"name": "ew"},
          "encoding": {
            "x": {"field": "p", "type": "quantitative", "scale": {"domain": [-1.05, 1.054], "nice": false, "zero": false}, "axis": null},
            "y": {"field": "v", "type": "quantitative", "axis": null},
            "color": {"field": "s", "type": "nominal",
                      "scale": {"domain": ["EW(Hβ)", "EW(Hγ)", "EW(HeII 4686)+10Å", "EW(HeI 4471)"], "range": ["#0000ff", "#008000", "#ff0000", "#000000"]},
                      "legend": null}
          },
          "layer": [
            {"mark": {"type": "errorbar", "thickness": 4}, "encoding": {"yError": {"field": "e"}}},
            {"mark": {"type": "circle", "size": 120, "opacity": 1}}
          ]
        },
        {
          "data": {"name": "ew"},
          "mark": {"type": "circle", "opacity": 0},
          "encoding": {
            "x": {"field": "p", "type": "quantitative", "scale": {"domain": [-0.05, 2.054], "nice": false, "zero": false},
                  "axis": {"orient": "top", "values": [0, 0.25, 0.5, 0.75, 1, 1.25, 1.5, 1.75, 2], "labels": false, "title": null}},
            "y": {"field": "v", "type": "quantitative", "axis": {"orient": "right", "values": [20, 30, 40, 50, 60, 70, 80, 90], "labels": false, "title": null}}
          }
        }
      ],
      "resolve": {"scale": {"x": "independent"}, "axis": {"y": "independent"}}
    },
    {
      "width": 1015,
      "height": 293,
      "layer": [
        {
          "encoding": {
            "x": {"field": "p", "type": "quantitative", "scale": {"domain": [-0.05, 2.054], "nice": false, "zero": false},
                  "axis": {"orient": "bottom", "values": [0, 0.25, 0.5, 0.75, 1, 1.25, 1.5, 1.75, 2], "format": ".2f", "title": "Photometric Phase", "titleFontSize": 36, "titleY": 74, "titleBaseline": "alphabetic"}},
            "y": {"field": "m", "type": "quantitative", "scale": {"domain": [-0.417, 0.448], "nice": false, "zero": false, "reverse": true},
                  "axis": {"values": [-0.4, -0.2, 0, 0.2, 0.4], "format": ".1f", "title": "Δm, mag"}}
          },
          "layer": [
            {"data": {"name": "photCore"}, "mark": {"type": "circle", "size": 210, "color": "#1f77b4", "opacity": 1}},
            {"data": {"name": "photEdge"}, "mark": {"type": "circle", "size": 125, "color": "#1f77b4", "opacity": 1}}
          ]
        },
        {
          "encoding": {
            "x": {"field": "p", "type": "quantitative", "scale": {"domain": [-1.05, 1.054], "nice": false, "zero": false}, "axis": null},
            "y": {"field": "m", "type": "quantitative", "axis": null}
          },
          "layer": [
            {"data": {"name": "photCore"}, "mark": {"type": "circle", "size": 210, "color": "#1f77b4", "opacity": 1}},
            {"data": {"name": "photEdge"}, "mark": {"type": "circle", "size": 125, "color": "#1f77b4", "opacity": 1}}
          ]
        },
        {
          "data": {"name": "photEdge"},
          "mark": {"type": "circle", "opacity": 0},
          "encoding": {
            "x": {"field": "p", "type": "quantitative", "scale": {"domain": [-0.05, 2.054], "nice": false, "zero": false},
                  "axis": {"orient": "top", "values": [0, 0.25, 0.5, 0.75, 1, 1.25, 1.5, 1.75, 2], "labels": false, "title": null}},
            "y": {"field": "m", "type": "quantitative", "axis": {"orient": "right", "values": [-0.4, -0.2, 0, 0.2, 0.4], "labels": false, "title": null}}
          }
        }
      ],
      "resolve": {"scale": {"x": "independent"}, "axis": {"y": "independent"}}
    }
  ],
  "config": {
    "view": {"stroke": "black", "strokeWidth": 2},
    "axis": {
      "domain": false, "grid": false, "tickColor": "black", "tickWidth": 2,
      "labelFont": "DejaVu Sans", "labelFontSize": 24, "labelColor": "black",
      "titleFont": "DejaVu Serif", "titleFontSize": 35, "titleFontWeight": "normal", "titleColor": "black"
    },
    "axisX": {"tickSize": -10, "labelPadding": 42, "labelBaseline": "alphabetic"},
    "axisY": {"tickSize": -12, "labelPadding": 28, "titleX": -128, "titleBaseline": "alphabetic"},
    "legend": {
      "labelFont": "DejaVu Serif", "labelFontSize": 23, "labelColor": "black", "labelLimit": 400,
      "symbolType": "M-0.2,-1H0.2V1H-0.2Z M-0.5,0A0.5,0.5 0 1,1 0.5,0A0.5,0.5 0 1,1 -0.5,0Z",
      "symbolSize": 484, "symbolStrokeWidth": 0, "symbolOpacity": 1,
      "labelOffset": 36, "rowPadding": 24, "columnPadding": 100, "padding": 19,
      "fillColor": "white", "strokeColor": "#cccccc", "cornerRadius": 5
    }
  }
}
